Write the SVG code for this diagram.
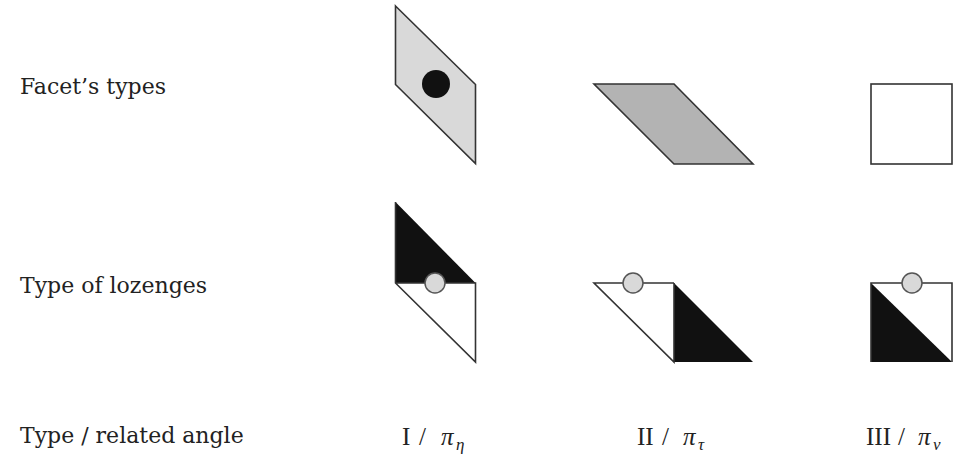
<svg xmlns="http://www.w3.org/2000/svg" width="967" height="459" viewBox="0 0 967 459">
<style>
.lbl{font-family:"DejaVu Serif","Liberation Serif",serif;font-size:22px;fill:#222}
.math{font-family:"Liberation Serif","DejaVu Serif",serif;font-size:25px;fill:#222}
.mi{font-style:italic}
.sub{font-family:"Liberation Serif","DejaVu Serif",serif;font-style:italic;font-size:17px;fill:#222}
.edge{stroke:#333;stroke-width:1.6;stroke-linejoin:miter}
.dot{fill:#d9d9d9;stroke:#555;stroke-width:1.5}
</style>
<rect width="967" height="459" fill="#fff"/>
<g id="labels">
<text class="lbl" x="20" y="94">Facet’s types</text>
<text class="lbl" x="20" y="293">Type of lozenges</text>
<text class="lbl" x="20" y="443">Type / related angle</text>
</g>
<g id="facet-I">
<polygon class="edge" points="395.5,6 475.5,84.5 475.5,163.5 395.5,84.5" fill="#d9d9d9"/>
<circle cx="436" cy="84" r="14" fill="#111"/>
</g>
<g id="facet-II">
<polygon class="edge" points="594,84 674,84 753,164 674,164" fill="#b3b3b3"/>
</g>
<g id="facet-III">
<rect class="edge" x="871" y="84" width="81" height="80" fill="#fff"/>
</g>
<g id="lozenge-I">
<polygon points="395.5,202 475.5,283 395.5,283" fill="#111"/>
<polygon points="395.5,283 475.5,283 475.5,362" fill="#fff"/>
<polyline class="edge" fill="none" points="395.5,202 395.5,283 475.5,362 475.5,283 395.5,283"/>
<circle class="dot" cx="435" cy="283" r="10"/>
</g>
<g id="lozenge-II">
<polygon points="674,283 753,362 674,362" fill="#111"/>
<polyline class="edge" fill="none" points="674,283 594,283 674,362 674,283"/>
<circle class="dot" cx="633" cy="283" r="10"/>
</g>
<g id="lozenge-III">
<polygon points="871,283 952,362 871,362" fill="#111"/>
<polyline class="edge" fill="none" points="871,362 871,283 952,283 952,362"/>
<circle class="dot" cx="912" cy="283" r="10"/>
</g>
<g id="angle-labels">
<text class="math" y="445"><tspan x="402">I</tspan><tspan x="419">/</tspan><tspan class="mi" x="441">π</tspan><tspan class="sub" x="456" dy="5">η</tspan></text>
<text class="math" y="445"><tspan x="637">II</tspan><tspan x="662">/</tspan><tspan class="mi" x="683">π</tspan><tspan class="sub" x="698" dy="5">τ</tspan></text>
<text class="math" y="445"><tspan x="866">III</tspan><tspan x="898">/</tspan><tspan class="mi" x="918">π</tspan><tspan class="sub" x="933" dy="5">ν</tspan></text>
</g>
</svg>
